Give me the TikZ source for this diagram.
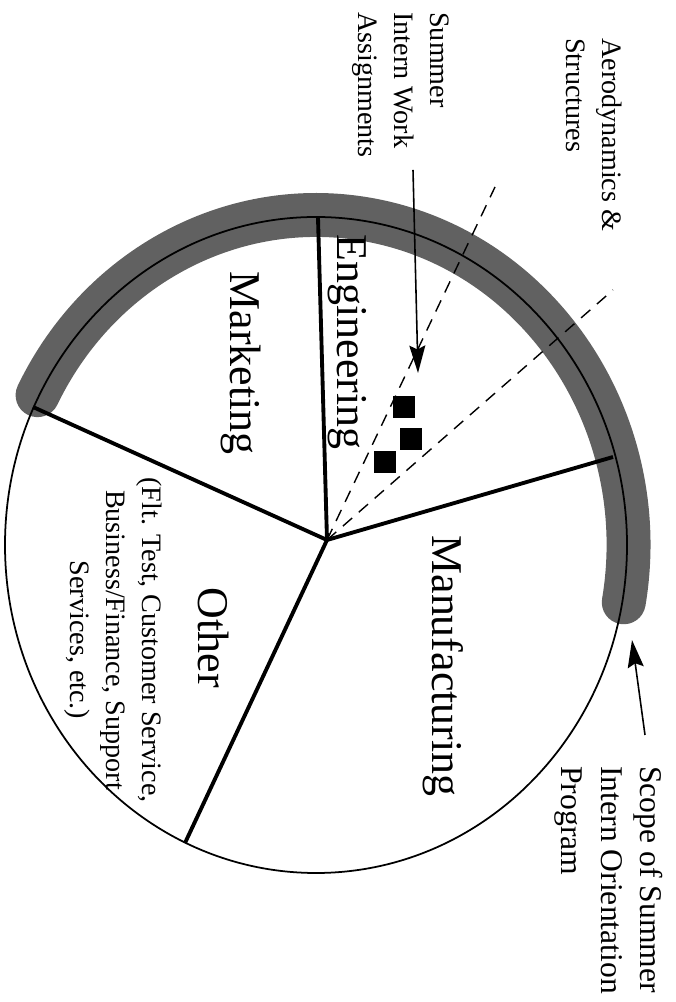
\documentclass[tikz,border=0pt]{standalone}
\usepackage{fontspec}
\setmainfont{Liberation Serif}
\usetikzlibrary{arrows.meta,calc}

\begin{document}
\begin{tikzpicture}[
		radio/.style={line width=2.2pt},
		division/.style={line width=0.8pt, dash pattern=on 7pt off 5pt},
		sector/.style={rotate=-90, anchor=base, inner sep=0pt, font=\fontsize{25}{30}\selectfont},
		nota/.style={rotate=-90, anchor=north west, inner sep=0pt, align=left, font=\fontsize{16}{20.4}\selectfont},
		cuadro/.style={fill=black, inner sep=0pt, minimum size=0.44cm},
		flecha/.style={line width=0.9pt, -{Stealth[length=5.5mm,width=3.2mm,inset=0.8mm]}}
	]
		
		% Marco que fija el tamaño del dibujo
		\useasboundingbox (0,0) rectangle (13.5,20.04);
		
		% Centro del contorno y punto donde se juntan los radios
		\coordinate (c) at (6.32,9.14);
		\coordinate (o) at (6.54,9.24);
		
		% Banda gris que marca el alcance del programa
		\draw[black!62, line width=25pt, line cap=round]
			($(c)+(-10:6.25 and 6.6)$) arc[start angle=-10, end angle=153, x radius=6.25, y radius=6.6];
		
		% Contorno del pastel
		\draw[line width=1pt] (c) ellipse[x radius=6.22, y radius=6.56];
		
		% Extremos de los radios sobre el contorno
		\coordinate (ing) at (6.36,15.68);
		\coordinate (mkt) at (0.66,11.90);
		\coordinate (otr) at (3.70,3.18);
		\coordinate (man) at (12.26,10.90);
		
		% Radios que separan los sectores
		\draw[radio] (o) -- (ing);
		\draw[radio] (o) -- (mkt);
		\draw[radio] (o) -- (otr);
		\draw[radio] (o) -- (man);
		
		% Subsector de aerodinámica y estructuras (líneas punteadas)
		\coordinate (aero1) at (9.90,16.30);
		\coordinate (aero2) at (12.26,14.24);
		\draw[division] (o) -- (aero1);
		\draw[division] (o) -- (aero2);
		
		% Nombres de los sectores
		\node[sector] (engineering) at (6.74,13.20) {Engineering};
		\node[sector] (marketing) at (4.60,12.78) {Marketing};
		\node[sector] (manufacturing) at (8.64,6.72) {Manufacturing};
		\node[sector] (other) at (3.96,7.28) {Other};
		\node[nota, anchor=center, align=center] (otherlist) at (2.26,7.24)
			{(Flt. Test, Customer Service,\\ Business/Finance, Support\\ Services, etc.)};
		
		% Tareas de los becarios (cuadros negros)
		\node[cuadro] (sq1) at (8.08,11.90) {};
		\node[cuadro] (sq2) at (8.21,11.26) {};
		\node[cuadro] (sq3) at (7.69,10.79) {};
		
		% Rótulos exteriores
		\node[nota] (assign) at (8.98,19.80) {Summer\\ Intern Work\\ Assignments};
		\node[nota] (aero) at (12.44,19.28) {Aerodynamics \&\\ Structures};
		\node[nota, font=\fontsize{18}{22.4}\selectfont] (scope) at (13.26,4.72)
			{Scope of Summer\\ Intern Orientation\\ Program};
		
		% Flechas que señalan
		\coordinate (assigntail) at (8.26,16.64);
		\coordinate (assigntip) at (8.36,12.58);
		\draw[flecha] (assigntail) -- (assigntip);
		\coordinate (scopetail) at (12.90,5.34);
		\coordinate (scopetip) at (12.64,7.24);
		\draw[flecha] (scopetail) -- (scopetip);
		
	\end{tikzpicture}
\end{document}
